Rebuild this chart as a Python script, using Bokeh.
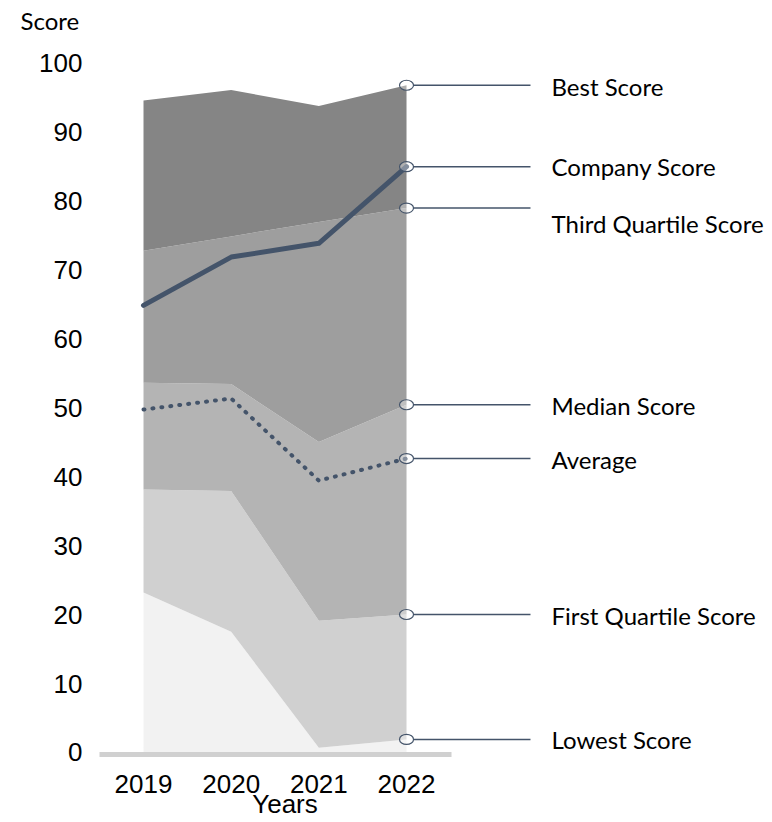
from bokeh.plotting import figure
from bokeh.models import Range1d, FixedTicker, ColumnDataSource
from bokeh.core.properties import value
from bokeh.embed import file_html
from bokeh.resources import INLINE

# ---- data ----
years = [2019, 2020, 2021, 2022]
best = [94.5, 96.0, 93.7, 96.7]
q3 = [72.7, 74.8, 76.9, 78.9]
company = [64.8, 71.8, 73.8, 84.9]
median = [53.6, 53.4, 45.0, 50.4]
average = [49.7, 51.3, 39.4, 42.6]
q1 = [38.1, 37.9, 19.1, 20.0]
lowest = [23.2, 17.5, 0.7, 1.9]
series_names = ["Best Score", "Company Score", "Third Quartile Score",
                "Median Score", "Average", "First Quartile Score", "Lowest Score"]
y_ticks = [0, 10, 20, 30, 40, 50, 60, 70, 80, 90, 100]
x_title = "Years"
y_title = "Score"

# ---- styles / layout ----
SLATE = "#44546a"
band_colors = ["#f2f2f2", "#d0d0d0", "#b4b4b4", "#9e9e9e", "#858585"]
label_nudge = [1, 0, 15, 1, 1, 1, 0]  # px, screen offsets for annotation labels

p = figure(width=772, height=822, output_backend="svg", toolbar_location=None,
           x_range=Range1d(2017.3689, 2026.106), y_range=Range1d(-10.145, 108.986),
           min_border_left=0, min_border_right=6, min_border_top=0,
           min_border_bottom=0)
p.outline_line_color = None
p.xgrid.visible = False
p.ygrid.visible = False
p.background_fill_color = "white"

# stacked bands
zero = [0, 0, 0, 0]
levels = [zero, lowest, q1, median, q3, best]
for i in range(5):
    p.varea(x=years, y1=levels[i], y2=levels[i + 1], fill_color=band_colors[i])

# lines
p.line(x=years, y=company, line_color=SLATE, line_width=5, line_join="round", line_cap="round")
p.line(x=years, y=average, line_color=SLATE, line_width=4, line_dash="1 8", line_cap="round")

# annotations at 2022
end_vals = [best[-1], company[-1], q3[-1], median[-1], average[-1], q1[-1], lowest[-1]]
n = len(end_vals)
src = ColumnDataSource(dict(
    x=[years[-1]] * n, y=end_vals,
    x0=[years[-1] + 0.08] * n, x1=[2023.414] * n,
    tx=[2023.654] * n, name=series_names, dy=label_nudge))
p.segment(x0="x0", y0="y", x1="x1", y1="y", source=src, line_color=SLATE, line_width=1.5)
p.ellipse(x="x", y="y", width=14, height=10, width_units="screen", height_units="screen",
          source=src, fill_color="white", fill_alpha=0.35, line_color=SLATE, line_width=1.2)
p.text(x="tx", y="y", text="name", y_offset="dy", source=src, text_font=value("Lato"),
       text_font_size="24px", text_baseline="middle", text_align="left", text_color="black")

# y axis, fixed just left of the bands
ya = p.yaxis[0]
ya.fixed_location = 2018.4525
ya.ticker = FixedTicker(ticks=y_ticks)
ya.axis_line_color = None
ya.major_tick_line_color = None
ya.minor_tick_line_color = None
ya.major_tick_out = 0
ya.major_tick_in = 0
ya.major_label_standoff = 13
ya.major_label_text_font = "Liberation Sans"
ya.major_label_text_font_size = "26px"
ya.major_label_text_color = "black"

# x axis drawn just under zero, its line is the grey base bar
xa = p.xaxis[0]
xa.fixed_location = -0.36
xa.bounds = (2018.498, 2022.513)
xa.ticker = FixedTicker(ticks=years)
xa.axis_line_color = "#d0d0d0"
xa.axis_line_width = 5
xa.major_tick_line_color = None
xa.minor_tick_line_color = None
xa.major_tick_out = 0
xa.major_tick_in = 0
xa.major_label_standoff = 20
xa.major_label_text_font = "Liberation Sans"
xa.major_label_text_font_size = "26px"
xa.major_label_text_color = "black"

# axis titles
p.text(x=[2020.614], y=[-5.36], text=[x_title], text_font=value("Liberation Sans"),
       text_font_size="26px", text_align="center", text_baseline="top",
       text_color="black")
p.text(x=[2017.597], y=[108.26], text=[y_title], text_font=value("Lato"),
       text_font_size="24px", text_align="left", text_baseline="top",
       text_color="black")

open("out.html", "w").write(file_html(p, INLINE))
